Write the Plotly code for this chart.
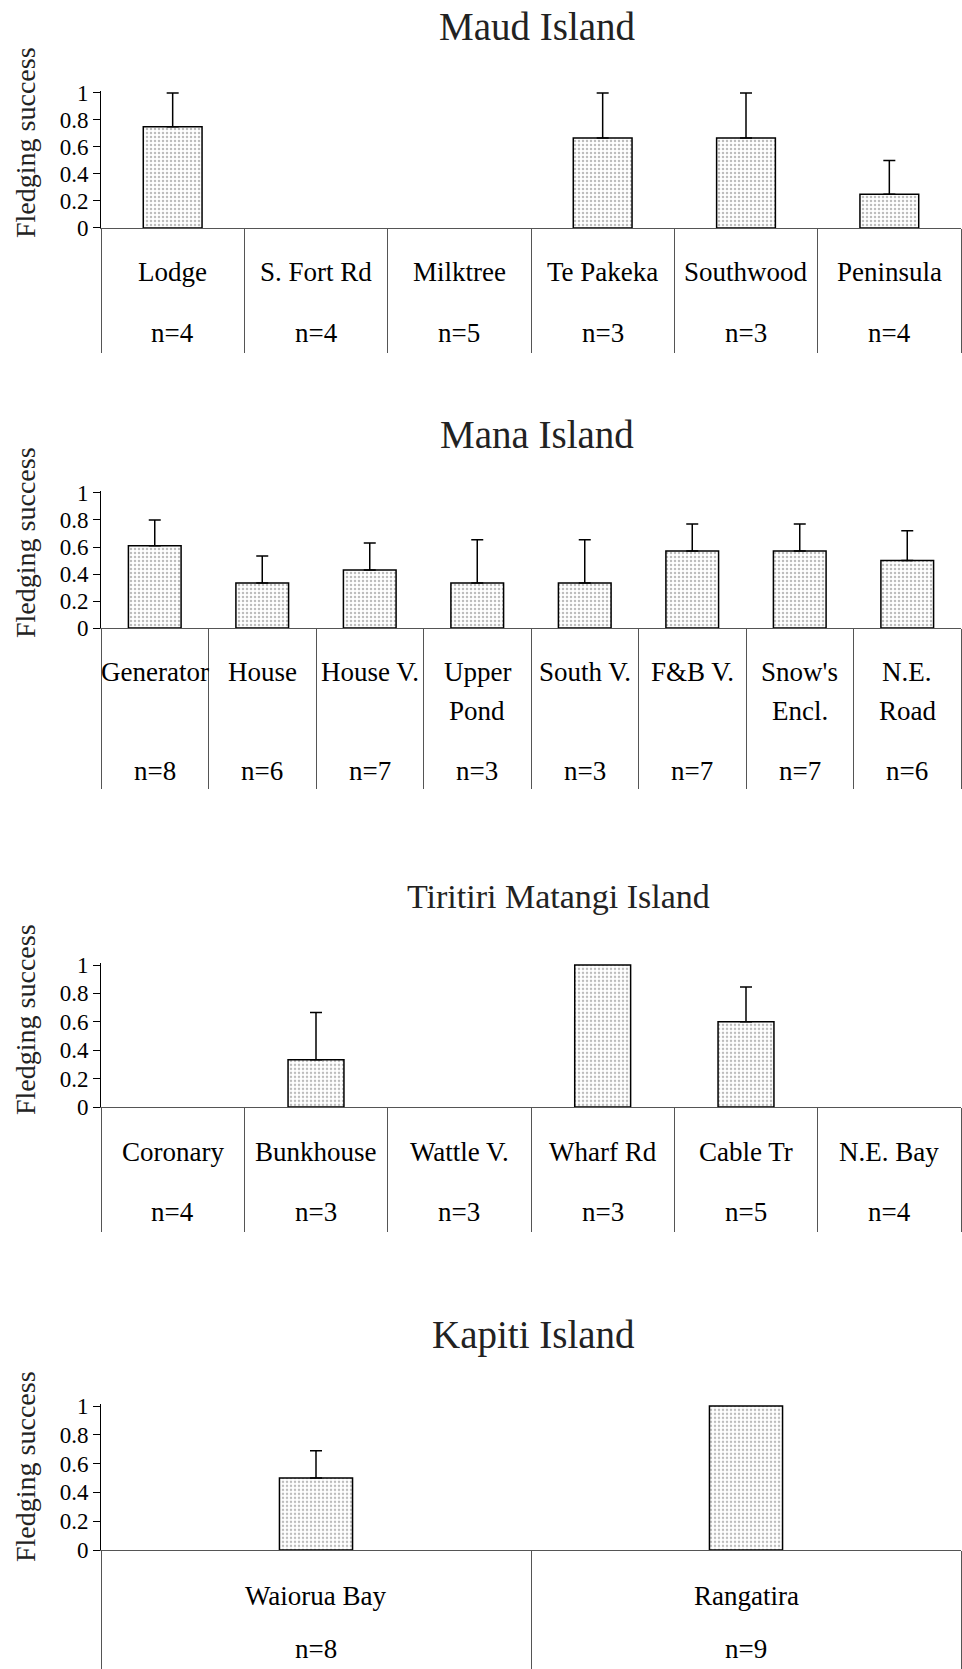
import plotly.graph_objects as go

W, H = 962, 1669

# ---------------- data ----------------
maud_sites = ["Lodge", "S. Fort Rd", "Milktree", "Te Pakeka", "Southwood", "Peninsula"]
maud_mean = [0.75, 0, 0, 0.667, 0.667, 0.25]
maud_se = [0.25, None, None, 0.333, 0.333, 0.25]
maud_n = [4, 4, 5, 3, 3, 4]

mana_sites = ["Generator", "House", "House V.", "Upper<br>Pond", "South V.", "F&B V.",
              "Snow's<br>Encl.", "N.E.<br>Road"]
mana_mean = [0.61, 0.333, 0.429, 0.333, 0.333, 0.571, 0.571, 0.5]
mana_se = [0.19, 0.2, 0.2, 0.32, 0.32, 0.2, 0.2, 0.22]
mana_n = [8, 6, 7, 3, 3, 7, 7, 6]

tiri_sites = ["Coronary", "Bunkhouse", "Wattle V.", "Wharf Rd", "Cable Tr", "N.E. Bay"]
tiri_mean = [0, 0.333, 0, 1.0, 0.6, 0]
tiri_se = [None, 0.333, None, None, 0.245, None]
tiri_n = [4, 3, 3, 3, 5, 4]

kap_sites = ["Waiorua Bay", "Rangatira"]
kap_mean = [0.5, 1.0]
kap_se = [0.189, None]
kap_n = [8, 9]

titles = ["Maud Island", "Mana Island", "Tiritiri Matangi Island", "Kapiti Island"]
y_title = "Fledging success"
yticks = [0, 0.2, 0.4, 0.6, 0.8, 1]
ytick_text = ["0", "0.2", "0.4", "0.6", "0.8", "1"]

# ---------------- layout geometry (pixels) ----------------
X0, X1 = 101, 961
YMAX = 1.015
FONT = "Liberation Serif, Times New Roman, serif"

panels = [
    dict(cats=maud_sites, mean=maud_mean, se=maud_se, n=maud_n, y1=93, y0=228,
         title_y=26, title_x=537, title_size=39, tick_size=23, row1=272, nrow=333,
         sep=124, ytitle_y=143, bw=0.41),
    dict(cats=mana_sites, mean=mana_mean, se=mana_se, n=mana_n, y1=493, y0=628,
         title_y=434, title_x=537, title_size=39, tick_size=23, row1=672, nrow=771,
         sep=160, ytitle_y=543, bw=0.49),
    dict(cats=tiri_sites, mean=tiri_mean, se=tiri_se, n=tiri_n, y1=965, y0=1107,
         title_y=896, title_x=558, title_size=34, tick_size=23, row1=1152, nrow=1212,
         sep=124, ytitle_y=1020, bw=0.39),
    dict(cats=kap_sites, mean=kap_mean, se=kap_se, n=kap_n, y1=1406, y0=1550,
         title_y=1335, title_x=533, title_size=39, tick_size=23, row1=1596, nrow=1649,
         sep=119, ytitle_y=1467, bw=0.17),
]


def py(p):
    return 1 - p / H


fig = go.Figure()
annotations = []

for i, P in enumerate(panels):
    k = "" if i == 0 else str(i + 1)
    xa, ya = "x" + k, "y" + k
    lw = [0 if v == 0 else 1.5 for v in P["mean"]]
    fig.add_trace(go.Bar(
        x=P["cats"], y=P["mean"], xaxis=xa, yaxis=ya, width=P["bw"],
        marker=dict(color="white", line=dict(color="black", width=lw),
                    pattern=dict(shape=".", fgcolor="#7a7a7a", bgcolor="white",
                                 size=4, solidity=0.3)),
        showlegend=False, hoverinfo="skip"))

    # upper error bars only where a standard error exists
    ex = [c for c, s in zip(P["cats"], P["se"]) if s is not None]
    ey = [m for m, s in zip(P["mean"], P["se"]) if s is not None]
    es = [s for s in P["se"] if s is not None]
    fig.add_trace(go.Scatter(
        x=ex, y=ey, xaxis=xa, yaxis=ya, mode="markers",
        marker=dict(size=1, color="rgba(0,0,0,0)"),
        error_y=dict(type="data", symmetric=False, array=es,
                     arrayminus=[0] * len(es), color="black", thickness=1.5, width=6),
        showlegend=False, hoverinfo="skip", cliponaxis=False))

    span = P["y0"] - P["y1"]
    top = P["y0"] - YMAX * span
    fig.update_layout(**{
        "xaxis" + k: dict(domain=[X0 / W, X1 / W], anchor=ya, type="category",
                          categoryorder="array", categoryarray=P["cats"],
                          range=[-0.5, len(P["cats"]) - 0.5], showline=True,
                          linecolor="#555555", linewidth=1, ticks="outside",
                          tickson="boundaries", ticklen=P["sep"], tickcolor="#555555",
                          tickwidth=1, showticklabels=False, showgrid=False,
                          zeroline=False, fixedrange=True, automargin=False),
        "yaxis" + k: dict(domain=[py(P["y0"]), py(top)], anchor=xa, range=[0, YMAX],
                          tickvals=yticks, ticktext=ytick_text, ticks="outside",
                          ticklen=7, tickcolor="black", showline=True,
                          linecolor="black", linewidth=1, showgrid=False,
                          zeroline=False, fixedrange=True, automargin=False,
                          tickfont=dict(family=FONT, size=P["tick_size"], color="black")),
    })

    # panel title
    annotations.append(dict(text=titles[i], x=P["title_x"] / W, y=py(P["title_y"]),
                            xref="paper", yref="paper", showarrow=False,
                            xanchor="center", yanchor="middle",
                            font=dict(family=FONT, size=P["title_size"], color="#222222")))
    # y-axis title
    annotations.append(dict(text=y_title, x=25 / W, y=py(P["ytitle_y"]),
                            xref="paper", yref="paper", showarrow=False, textangle=-90,
                            xanchor="center", yanchor="middle",
                            font=dict(family=FONT, size=28, color="#222222")))
    # category labels and sample sizes
    for c, nn in zip(P["cats"], P["n"]):
        for j, line in enumerate(c.split("<br>")):
            annotations.append(dict(text=line, x=c, xref=xa, y=py(P["row1"] + j * 39),
                                    yref="paper", showarrow=False, xanchor="center",
                                    yanchor="middle",
                                    font=dict(family=FONT, size=27, color="black")))
        annotations.append(dict(text="n=%d" % nn, x=c, xref=xa, y=py(P["nrow"]),
                                yref="paper", showarrow=False, xanchor="center",
                                yanchor="middle", borderpad=0,
                                font=dict(family=FONT, size=27, color="black")))

fig.update_layout(width=W, height=H,
                  margin=dict(l=0, r=0, t=0, b=0, pad=0, autoexpand=False),
                  paper_bgcolor="white", plot_bgcolor="white",
                  annotations=annotations, bargap=0)

fig.write_html(
    "out.html",
    config={"displayModeBar": False, "staticPlot": True},
    post_script=(
        "document.documentElement.style.overflow='hidden';"
        "document.body.style.margin='0';"
        "document.body.style.overflow='hidden';"
        "var d=document.getElementById('{plot_id}');"
        "d.style.position='fixed';d.style.left='0px';d.style.top='0px';"
    ),
)
